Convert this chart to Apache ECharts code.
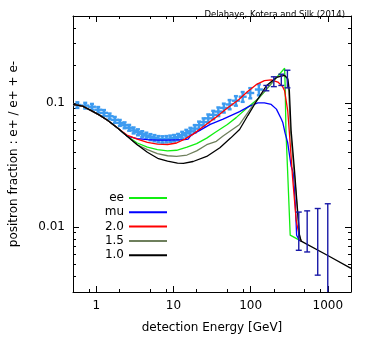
<!DOCTYPE html>
<html>
<head>
<meta charset="utf-8">
<script src="https://cdn.jsdelivr.net/npm/echarts@6/dist/echarts.min.js"></script>
<style>
  html, body { margin: 0; padding: 0; background: #fff; }
  #main { width: 374px; height: 337px; }
</style>
</head>
<body>
<div id="main"></div>
<script>
  // common low-energy part of all model curves (GeV, fraction)
  const lowE = [0.5, 0.665, 0.85, 1.09, 1.4, 1.89];
  const lowF = [0.097, 0.094, 0.087, 0.080, 0.0723, 0.0627];

  const eeE = [2.5, 3.4, 4.6, 6.2, 8.4, 11, 15, 20, 27, 35, 50, 65, 92, 130, 176, 226, 276, 281, 287, 302, 326, 452];
  const eeF = [0.054, 0.0475, 0.044, 0.042, 0.041, 0.0415, 0.044, 0.047, 0.052, 0.058, 0.067, 0.076, 0.092, 0.110, 0.137, 0.165, 0.19, 0.13, 0.06, 0.028, 0.0086, 0.0077];

  const muE = [2.5, 3.4, 4.6, 6.2, 8.4, 11, 14, 15.5, 17, 22, 30, 44, 72, 97, 124, 151, 185, 216, 250, 262, 280, 302, 335, 360, 380, 395, 430, 452];
  const muF = [0.054, 0.0515, 0.0505, 0.050, 0.050, 0.0503, 0.0505, 0.051, 0.055, 0.060, 0.067, 0.074, 0.085, 0.094, 0.100, 0.100, 0.097, 0.089, 0.074, 0.069, 0.057, 0.048, 0.031, 0.027, 0.015, 0.0086, 0.0078, 0.0077];

  const redE = [2.5, 3.4, 4.6, 6.2, 8.4, 11, 14, 18, 25, 35, 50, 70, 90, 118, 151, 185, 226, 260, 276, 303, 318, 350, 390, 430, 452];
  const redF = [0.055, 0.051, 0.048, 0.0465, 0.0462, 0.0475, 0.051, 0.056, 0.065, 0.076, 0.091, 0.106, 0.122, 0.140, 0.151, 0.153, 0.147, 0.135, 0.125, 0.086, 0.058, 0.025, 0.0113, 0.0083, 0.0077];

  const oliveE = [2.5, 3.4, 4.6, 6.2, 8.4, 11, 15, 20, 27, 36, 44, 72, 118, 160, 216, 262, 295, 312, 330, 370, 430, 452];
  const oliveF = [0.054, 0.046, 0.042, 0.039, 0.0375, 0.037, 0.038, 0.041, 0.046, 0.049, 0.054, 0.067, 0.104, 0.129, 0.160, 0.169, 0.160, 0.125, 0.058, 0.026, 0.0086, 0.0077];

  const blackE = [2.5, 3.4, 4.6, 6.4, 8.4, 11.3, 13.5, 18, 27, 40, 55, 72, 92, 118, 160, 216, 276, 304, 318, 335, 370, 430, 452, 1000, 2000];
  const blackF = [0.054, 0.0459, 0.040, 0.0355, 0.034, 0.0327, 0.0326, 0.0337, 0.037, 0.0435, 0.052, 0.061, 0.079, 0.102, 0.137, 0.160, 0.166, 0.156, 0.125, 0.06, 0.029, 0.0086, 0.0077, 0.0059, 0.00465];

  // light blue data points
  const amsE = [0.57, 0.72, 0.88, 1.06, 1.26, 1.49, 1.74, 2.02, 2.33, 2.67, 3.05, 3.47, 3.94, 4.46, 5.04, 5.68, 6.4, 7.2, 8.1, 9.1, 10.2, 11.5, 13.0, 14.7, 16.6, 18.9, 21.5, 24.6, 28.3, 32.8, 38.2, 45.0, 53.5, 64.5, 79, 99, 128];
  const amsF = [0.096, 0.095, 0.093, 0.088, 0.083, 0.078, 0.073, 0.069, 0.066, 0.063, 0.060, 0.058, 0.056, 0.0545, 0.053, 0.052, 0.051, 0.0508, 0.051, 0.0515, 0.052, 0.053, 0.055, 0.057, 0.059, 0.062, 0.066, 0.070, 0.075, 0.080, 0.085, 0.091, 0.097, 0.104, 0.112, 0.120, 0.128];
  const amsErr = [0.005, 0.005, 0.005, 0.0045, 0.0045, 0.004, 0.004, 0.0038, 0.0036, 0.0034, 0.0033, 0.0032, 0.0031, 0.003, 0.003, 0.003, 0.003, 0.003, 0.003, 0.003, 0.0031, 0.0032, 0.0034, 0.0036, 0.0039, 0.0042, 0.0046, 0.005, 0.0056, 0.0062, 0.0068, 0.0075, 0.0083, 0.0092, 0.0102, 0.0113, 0.013];

  // dark blue high-energy points
  const hiE = [160, 200, 250, 300, 421, 541, 741, 1000];
  const hiF = [0.131, 0.148, 0.154, 0.156, 0.0095, 0.0092, 0.0077, 0.006];
  const hiLo = [0.125, 0.135, 0.138, 0.132, 0.0065, 0.0063, 0.0041, 0.001];
  const hiHi = [0.138, 0.162, 0.170, 0.183, 0.0132, 0.0135, 0.0141, 0.0154];

  const xMajor = [1, 10, 100, 1000];
  const xMinor = [0.8, 2, 5, 8, 20, 50, 80, 200, 500, 800];
  const yMajor = [0.01, 0.1];
  const yMinor = [0.004, 0.005, 0.006, 0.007, 0.008, 0.009, 0.02, 0.03, 0.04, 0.05, 0.06, 0.07, 0.08, 0.09, 0.2, 0.3, 0.4];

  const FONT = 'DejaVu Sans';

  const pairs = (es, fs) => es.map((e, i) => [e, fs[i]]);
  const curve = (es, fs) => pairs(lowE.concat(es), lowF.concat(fs));

  // vertical error bar with caps, clipped to the plot
  const barRender = (capHalf, crossHalf, color, width) => (params, api) => {
    const cs = params.coordSys;
    const clampY = v => Math.max(cs.y, Math.min(cs.y + cs.height, v));
    const p = api.coord([api.value(0), api.value(1)]);
    const yLo = clampY(api.coord([api.value(0), api.value(2)])[1]);
    const yHi = clampY(api.coord([api.value(0), api.value(3)])[1]);
    const st = { stroke: color, lineWidth: width };
    const kids = [
      { type: 'line', shape: { x1: p[0], y1: yLo, x2: p[0], y2: yHi }, style: st },
      { type: 'line', shape: { x1: p[0] - capHalf, y1: yHi, x2: p[0] + capHalf, y2: yHi }, style: st }
    ];
    if (yLo < cs.y + cs.height - 0.5) {
      kids.push({ type: 'line', shape: { x1: p[0] - capHalf, y1: yLo, x2: p[0] + capHalf, y2: yLo }, style: st });
    }
    if (crossHalf) {
      kids.push({ type: 'line', shape: { x1: p[0] - crossHalf, y1: p[1], x2: p[0] + crossHalf, y2: p[1] }, style: st });
    }
    return { type: 'group', children: kids };
  };

  const xAx = (pos, ticks, len, line, labels) => ({
    type: 'log', logBase: 10, min: 0.5, max: 2000, position: pos,
    axisLine: { show: line, lineStyle: { color: '#000', width: 1 } },
    axisTick: { show: true, inside: true, length: len, customValues: ticks, lineStyle: { color: '#000', width: 1 } },
    axisLabel: labels ? { customValues: xMajor, margin: 8, color: '#000', fontSize: 12, fontFamily: FONT, formatter: v => String(v) } : { show: false },
    splitLine: { show: false }
  });
  const yAx = (pos, ticks, len, line, labels) => ({
    type: 'log', logBase: 10, min: 0.003, max: 0.5, position: pos,
    axisLine: { show: line, lineStyle: { color: '#000', width: 1 } },
    axisTick: { show: true, inside: true, length: len, customValues: ticks, lineStyle: { color: '#000', width: 1 } },
    axisLabel: labels ? { customValues: yMajor, margin: 8, color: '#000', fontSize: 12, fontFamily: FONT, formatter: v => String(v) } : { show: false },
    splitLine: { show: false }
  });

  const xBottom = xAx('bottom', xMajor, 6, true, true);
  xBottom.name = 'detection Energy [GeV]';
  xBottom.nameLocation = 'middle';
  xBottom.nameGap = 30;
  xBottom.nameTextStyle = { color: '#000', fontSize: 12, fontFamily: FONT };
  const yLeft = yAx('left', yMajor, 6, true, true);
  yLeft.name = 'positron fraction : e+ / e+ + e-';
  yLeft.nameLocation = 'middle';
  yLeft.nameGap = 53;
  yLeft.nameTextStyle = { color: '#000', fontSize: 12, fontFamily: FONT };

  const lineSeries = (name, data, color) => ({
    name, type: 'line', data, color, showSymbol: false, symbol: 'none',
    lineStyle: { color, width: 1.3 }, z: 3, silent: true, animation: false
  });

  const chart = echarts.init(document.getElementById('main'));
  chart.setOption({
    animation: false,
    title: {
      text: 'Delahaye, Kotera and Silk (2014)', right: 24, top: 5,
      textStyle: { fontSize: 8.5, fontWeight: 'normal', color: '#000', fontFamily: FONT }
    },
    legend: {
      data: ['ee', 'mu', '2.0', '1.5', '1.0'],
      orient: 'vertical', align: 'right', right: 202, top: 186,
      icon: 'rect', itemWidth: 38, itemHeight: 2, itemGap: 0.3,
      textStyle: { fontSize: 12, color: '#000', fontFamily: FONT, lineHeight: 14 }
    },
    grid: { left: 73, right: 23, top: 16, bottom: 45, containLabel: false, outerBoundsMode: 'none' },
    xAxis: [xBottom, xAx('bottom', xMinor, 3, false, false), xAx('top', xMajor, 6, true, false), xAx('top', xMinor, 3, false, false)],
    yAxis: [yLeft, yAx('left', yMinor, 3, false, false), yAx('right', yMajor, 6, true, false), yAx('right', yMinor, 3, false, false)],
    series: [
      {
        type: 'custom', name: 'ams', z: 1, silent: true,
        renderItem: barRender(2, 4, '#3d9bf0', 2.4),
        encode: { x: 0, y: 1 },
        data: amsE.map((e, i) => [e, amsF[i], amsF[i] - amsErr[i], amsF[i] + amsErr[i]])
      },
      {
        type: 'custom', name: 'hi', z: 4, silent: true,
        renderItem: barRender(3, 0, '#1a1aa8', 1.4),
        encode: { x: 0, y: 1 },
        data: hiE.map((e, i) => [e, hiF[i], hiLo[i], hiHi[i]])
      },
      lineSeries('ee', curve(eeE, eeF), '#11ee11'),
      lineSeries('mu', curve(muE, muF), '#0000ff'),
      lineSeries('2.0', curve(redE, redF), '#ff0000'),
      lineSeries('1.5', curve(oliveE, oliveF), '#6e7f5c'),
      lineSeries('1.0', curve(blackE, blackF), '#000000')
    ]
  });
</script>
</body>
</html>
